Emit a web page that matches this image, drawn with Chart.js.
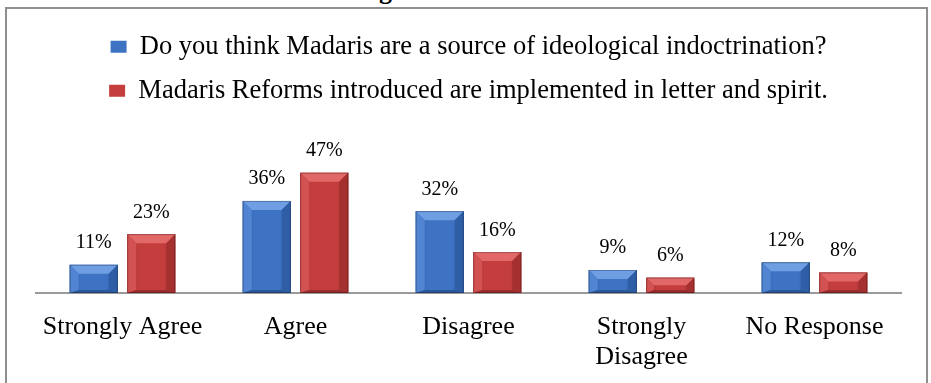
<!DOCTYPE html>
<html><head><meta charset="utf-8">
<script src="https://cdn.jsdelivr.net/npm/chart.js@4"></script>
<style>
html,body{margin:0;padding:0;background:#fff;overflow:hidden}
#wrap{position:relative;width:931px;height:383px;overflow:hidden}
#frame{position:absolute;left:5px;top:7px;width:919px;height:420px;border:2px solid #8f8f8f;pointer-events:none}
#tfrag{position:absolute;left:379px;top:-22px;font:bold 26px "Liberation Serif", serif;line-height:26px;color:#000}
canvas{position:absolute;left:0;top:0}
</style></head>
<body><div id="wrap"><span id="tfrag">g</span><canvas id="c" width="931" height="383"></canvas><div id="frame"></div></div>
<script>
const categories = ['Strongly Agree', 'Agree', 'Disagree', ['Strongly', 'Disagree'], 'No Response'];
const seriesNames = ['Do you think Madaris are a source of ideological indoctrination?', 'Madaris Reforms introduced are implemented in letter and spirit.'];
const indoctrination = [11, 36, 32, 9, 12];
const reforms = [23, 47, 16, 6, 8];

const serif = "'Liberation Serif', 'Times New Roman', serif";

const palettes = [
  {base:'#3e73c4', top:'#6f9fe2', left:'#5185d2', right:'#2f5ea6', bottom:'#2c5799'},
  {base:'#c43e3e', top:'#e26868', left:'#d25252', right:'#a53030', bottom:'#982b2b'}
];

const bevelPlugin = {
  id: 'bevel',
  afterDatasetDraw(chart, args) {
    const ctx = chart.ctx;
    const pal = palettes[args.index];
    args.meta.data.forEach(el => {
      const p = el.getProps(['x', 'y', 'base', 'width'], true);
      const l = p.x - p.width / 2, r = p.x + p.width / 2, t = p.y, b = p.base;
      const h = b - t;
      const bv = Math.min(9, h / 2, p.width / 2);
      ctx.save();
      const g = ctx.createLinearGradient(l, 0, r, 0);
      g.addColorStop(0, pal.right); g.addColorStop(0.25, pal.base); g.addColorStop(0.75, pal.base); g.addColorStop(1, pal.right);
      ctx.fillStyle = g; ctx.fillRect(l, t, r - l, h);
      const poly = (pts, c) => { ctx.beginPath(); ctx.moveTo(pts[0][0], pts[0][1]); pts.slice(1).forEach(q => ctx.lineTo(q[0], q[1])); ctx.closePath(); ctx.fillStyle = c; ctx.fill(); };
      poly([[l, t], [r, t], [r - bv, t + bv], [l + bv, t + bv]], pal.top);
      poly([[l, t], [l + bv, t + bv], [l + bv, b - 3], [l, b]], pal.left);
      poly([[r, t], [r - bv, t + bv], [r - bv, b - 3], [r, b]], pal.right);
      poly([[l, b], [l + bv, b - 3], [r - bv, b - 3], [r, b]], pal.bottom);
      ctx.strokeStyle = 'rgba(0,0,0,0.25)'; ctx.lineWidth = 1; ctx.strokeRect(l + 0.5, t + 0.5, r - l - 1, h - 1);
      ctx.restore();
    });
  }
};

const labelPlugin = {
  id: 'vlabels',
  afterDatasetsDraw(chart) {
    const ctx = chart.ctx;
    ctx.save();
    ctx.font = '20px ' + serif;
    ctx.fillStyle = '#000';
    ctx.textAlign = 'center';
    ctx.textBaseline = 'alphabetic';
    chart.data.datasets.forEach((ds, i) => {
      chart.getDatasetMeta(i).data.forEach((el, j) => {
        ctx.fillText(ds.data[j] + '%', el.x, el.y - 16.5);
      });
    });
    ctx.restore();
  }
};

new Chart(document.getElementById('c'), {
  type: 'bar',
  data: {
    labels: categories,
    datasets: [
      {label: seriesNames[0], data: indoctrination, backgroundColor: palettes[0].base, borderWidth: 0, categoryPercentage: 0.665, barPercentage: 0.835},
      {label: seriesNames[1], data: reforms, backgroundColor: palettes[1].base, borderWidth: 0, categoryPercentage: 0.665, barPercentage: 0.835}
    ]
  },
  options: {
    responsive: false,
    devicePixelRatio: 1,
    animation: false,
    layout: {padding: {left: 36, right: 30, top: 16, bottom: 0}},
    plugins: {
      legend: {
        position: 'top',
        labels: {font: {family: serif, size: 26.5}, color: '#000', boxWidth: 16, boxHeight: 12, padding: 17.5}
      },
      tooltip: {enabled: false}
    },
    scales: {
      x: {
        grid: {display: false},
        border: {display: true, color: '#9a9a9a', width: 2},
        ticks: {font: {family: serif, size: 26, lineHeight: 1.15}, color: '#000', padding: 11, maxRotation: 0, autoSkip: false},
        afterFit(scale) { scale.height = 90; }
      },
      y: {display: false, min: 0, max: 70}
    }
  },
  plugins: [bevelPlugin, labelPlugin]
});
</script>
</body></html>
